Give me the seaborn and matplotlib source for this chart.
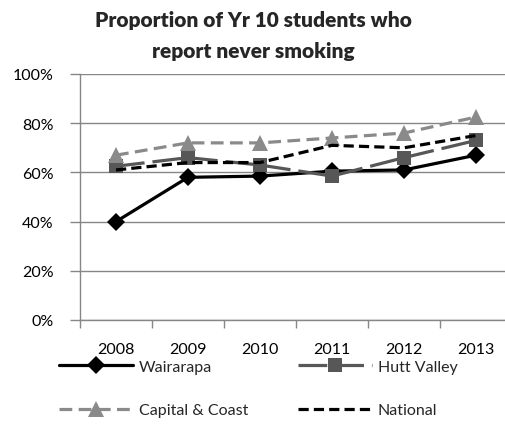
import matplotlib
matplotlib.use("Agg")
import matplotlib.pyplot as plt
import seaborn as sns
import pandas as pd
from matplotlib.ticker import FixedLocator, PercentFormatter

years = ["2008", "2009", "2010", "2011", "2012", "2013"]
wairarapa = [40, 58, 58.5, 60.5, 61, 67]
hutt_valley = [62.5, 66, 63, 58.5, 66, 73]
capital_coast = [67, 72, 72, 74, 76, 82.5]
national = [61, 64, 64, 71, 70, 75]
series_names = ["Wairarapa", "Hutt Valley", "Capital & Coast", "National"]

df = pd.DataFrame({
    "Year": years * 4,
    "Value": wairarapa + hutt_valley + capital_coast + national,
    "Region": sum([[n] * len(years) for n in series_names], []),
})

sns.set_theme(style="white")
plt.rcParams["font.family"] = ["Lato", "DejaVu Sans"]

fig = plt.figure(figsize=(5.06, 4.27), dpi=100)
ax = fig.add_axes([80 / 506, 106 / 427, 432 / 506, 246 / 427])

palette = {"Wairarapa": "#000000", "Hutt Valley": "#575757",
           "Capital & Coast": "#8a8a8a", "National": "#000000"}
dashes = {"Wairarapa": "", "Hutt Valley": (9, 2.5),
          "Capital & Coast": (4, 2), "National": (3.2, 1.6)}
markers = {"Wairarapa": "D", "Hutt Valley": "s",
           "Capital & Coast": "^", "National": None}
msizes = {"Wairarapa": 9.5, "Hutt Valley": 10, "Capital & Coast": 11, "National": 0}

for name in series_names:
    sub = df[df["Region"] == name]
    kw = {}
    if markers[name]:
        kw = dict(marker=markers[name], markersize=msizes[name],
                  markeredgewidth=0)
    sns.lineplot(data=sub, x="Year", y="Value", ax=ax, color=palette[name],
                 linewidth=2.3, label=name, sort=False, **kw)
    line = ax.get_lines()[-1]
    if dashes[name]:
        line.set_dashes(dashes[name])
        line.set_dash_capstyle("butt")

ax.set_xlim(-0.5, 5.5)
ax.set_ylim(0, 100)
ax.yaxis.set_major_locator(FixedLocator([0, 20, 40, 60, 80, 100]))
ax.yaxis.set_major_formatter(PercentFormatter(decimals=0))
ax.set_xticks(range(len(years)))
ax.set_xticklabels(years)
ax.xaxis.set_minor_locator(FixedLocator([i - 0.5 for i in range(len(years) + 1)]))
ax.tick_params(axis="x", which="major", length=0, pad=16, labelsize=11.5, colors="#000000")
ax.tick_params(axis="x", which="minor", length=6, width=1, color="#868686", direction="out", bottom=True)
ax.tick_params(axis="y", which="major", length=7, width=1, color="#868686", direction="out", left=True,
               pad=12, labelsize=11.5, labelcolor="#000000")
ax.grid(axis="y", color="#868686", linewidth=1)
ax.set_axisbelow(True)
for s in ["top", "right"]:
    ax.spines[s].set_visible(False)
for s in ["left", "bottom"]:
    ax.spines[s].set_color("#868686")
    ax.spines[s].set_linewidth(1)
ax.set_xlabel("")
ax.set_ylabel("")

handles, labels = ax.get_legend_handles_labels()
ax.get_legend().remove()
order = [0, 2, 1, 3]  # row-wise fill: Wairarapa, Hutt Valley / Capital & Coast, National
leg = fig.legend([handles[i] for i in order], [labels[i] for i in order], ncol=2,
                 loc="upper left", bbox_to_anchor=(45 / 506, 1 - 346 / 427), frameon=False,
                 fontsize=11.5, handlelength=4.6, handletextpad=0.4,
                 columnspacing=3.1, labelspacing=1.85)

fig.text(0.5, 1 - 36 / 427, "Proportion of Yr 10 students who\nreport never smoking",
         ha="center", va="center", fontsize=15, fontweight="heavy",
         linespacing=1.8)

fig.savefig("out.png", dpi=100)
